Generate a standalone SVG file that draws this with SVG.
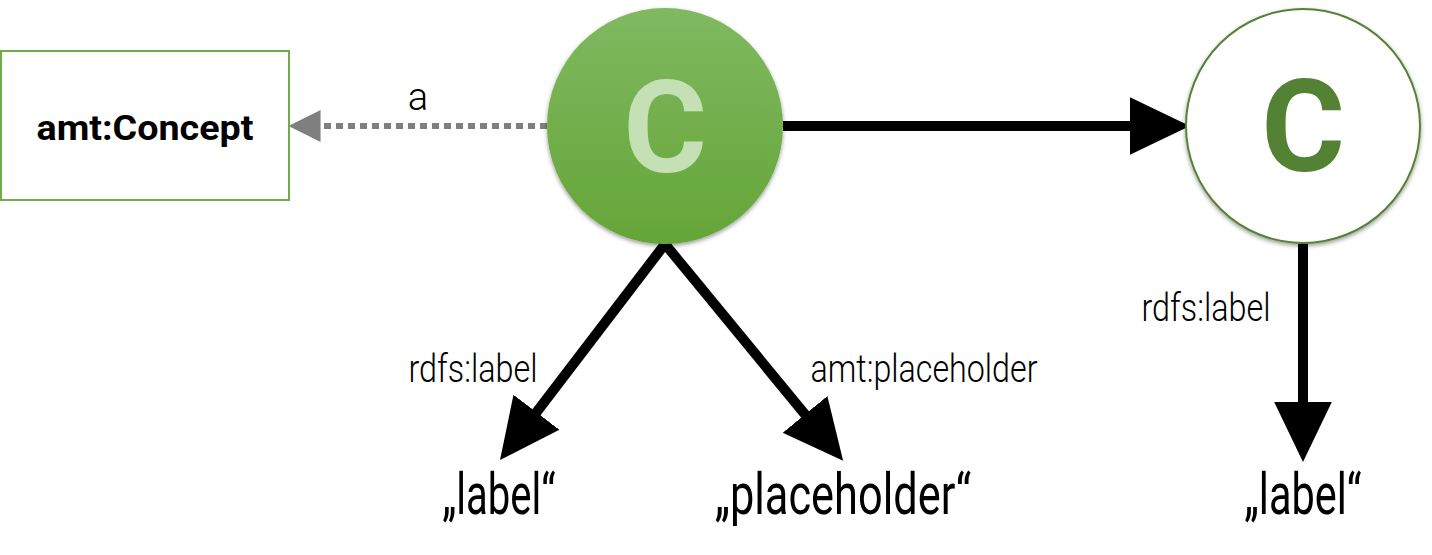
<svg xmlns="http://www.w3.org/2000/svg" width="1432" height="555" viewBox="0 0 1432 555">
<defs>
<linearGradient id="g" x1="0" y1="0" x2="0" y2="1">
<stop offset="0" stop-color="#80b961"/>
<stop offset="1" stop-color="#64a537"/>
</linearGradient>
<filter id="sh" x="-20%" y="-20%" width="140%" height="140%">
<feGaussianBlur in="SourceAlpha" stdDeviation="2"/>
<feOffset dx="0" dy="2" result="b"/>
<feFlood flood-color="#000" flood-opacity="0.4"/>
<feComposite in2="b" operator="in"/>
<feMerge><feMergeNode/><feMergeNode in="SourceGraphic"/></feMerge>
</filter>
<marker id="ab" markerUnits="userSpaceOnUse" markerWidth="60" markerHeight="60" viewBox="0 0 54 52" refX="10" refY="26" orient="auto">
<path d="M0,0 L54,26 L0,52 Z" fill="#000"/>
</marker>
<marker id="ag" markerUnits="userSpaceOnUse" markerWidth="32" markerHeight="32" viewBox="0 0 28 28" refX="4" refY="14" orient="auto">
<path d="M0,0 L28,14 L0,28 Z" fill="#7f7f7f"/>
</marker>
</defs>
<style>
.lbl{font-family:Roboto,"Liberation Sans",sans-serif;font-weight:300;font-size:38px;fill:#000}
.lit{font-family:Roboto,"Liberation Sans",sans-serif;font-weight:400;font-size:58px;fill:#000}
.edge{stroke:#000;stroke-width:10;fill:none}
</style>
<g id="connectors">
<line x1="547" y1="126" x2="316" y2="126" stroke="#7f7f7f" stroke-width="6" stroke-dasharray="7,5" marker-end="url(#ag)"/>
<line class="edge" x1="783" y1="126" x2="1141" y2="126" marker-end="url(#ab)"/>
<line class="edge" x1="665" y1="244" x2="529.7" y2="421.1" marker-end="url(#ab)"/>
<line class="edge" x1="665" y1="244" x2="812.1" y2="423" marker-end="url(#ab)"/>
<line class="edge" x1="1303" y1="244" x2="1303" y2="413" marker-end="url(#ab)"/>
<text class="lbl" x="418" y="110" text-anchor="middle">a</text>
<text class="lbl" x="473" y="382" text-anchor="middle" textLength="129" lengthAdjust="spacingAndGlyphs">rdfs:label</text>
<text class="lbl" x="924" y="382" text-anchor="middle" textLength="227" lengthAdjust="spacingAndGlyphs">amt:placeholder</text>
<text class="lbl" x="1206" y="321" text-anchor="middle" textLength="129" lengthAdjust="spacingAndGlyphs">rdfs:label</text>
</g>
<g id="concept-class">
<rect x="1" y="51" width="288" height="149" fill="#fff" stroke="#70ad47" stroke-width="2"/>
<text x="145" y="140" text-anchor="middle" font-family="Roboto,'Liberation Sans',sans-serif" font-weight="700" font-size="35" textLength="217" lengthAdjust="spacingAndGlyphs">amt:Concept</text>
</g>
<g id="concept-main">
<circle cx="665" cy="126" r="118" fill="url(#g)" filter="url(#sh)"/>
<text x="665" y="172" text-anchor="middle" font-family="Roboto,'Liberation Sans',sans-serif" font-weight="700" font-size="128" fill="#c5e0b4">C</text>
</g>
<g id="concept-other">
<circle cx="1303" cy="126" r="117" fill="#fff" stroke="#548235" stroke-width="2" filter="url(#sh)"/>
<text x="1303" y="171" text-anchor="middle" font-family="Roboto,'Liberation Sans',sans-serif" font-weight="700" font-size="128" fill="#548235">C</text>
</g>
<g id="lit-label1">
<text class="lit" x="499" y="514" text-anchor="middle" textLength="113" lengthAdjust="spacingAndGlyphs">„label“</text>
</g>
<g id="lit-placeholder">
<text class="lit" x="843" y="514" text-anchor="middle" textLength="256" lengthAdjust="spacingAndGlyphs">„placeholder“</text>
</g>
<g id="lit-label2">
<text class="lit" x="1303" y="514" text-anchor="middle" textLength="117" lengthAdjust="spacingAndGlyphs">„label“</text>
</g>
</svg>
